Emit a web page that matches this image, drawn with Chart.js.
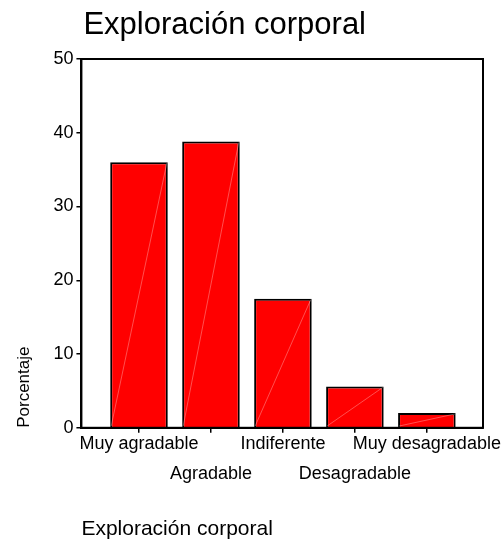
<!DOCTYPE html>
<html>
<head>
<meta charset="utf-8">
<script src="https://cdn.jsdelivr.net/npm/chart.js@4.4.1/dist/chart.umd.min.js"></script>
<style>
  html, body { margin: 0; padding: 0; background: #fff; }
  #wrap { width: 502px; height: 542px; }
</style>
</head>
<body>
<div id="wrap"><canvas id="chart"></canvas></div>
<script>
'use strict';

// ── Data ────────────────────────────────────────────────────────────────
const TITLE      = 'Exploración corporal';
const CATEGORIES = ['Muy agradable', 'Agradable', 'Indiferente', 'Desagradable', 'Muy desagradable'];
const PERCENTS   = [36.0, 38.8, 17.5, 5.6, 2.0];
const Y_TICKS    = [0, 10, 20, 30, 40, 50];
const Y_LABEL    = 'Porcentaje';

const FONT = "Arial, 'Liberation Sans', sans-serif";

// title drawn at the left edge of the plot box
const titlePlugin = {
  id: 'titleLeft',
  afterDraw(chart) {
    const { ctx, chartArea } = chart;
    ctx.save();
    ctx.font = `31px ${FONT}`;
    ctx.fillStyle = '#000';
    ctx.textBaseline = 'alphabetic';
    ctx.fillText(TITLE, chartArea.left + 2, 34);
    ctx.restore();
  },
};

// closed frame round the plot + faint diagonal in each bar
const framePlugin = {
  id: 'frame',
  afterDatasetsDraw(chart) {
    const { ctx, chartArea } = chart;
    ctx.save();
    ctx.strokeStyle = 'rgba(255, 220, 220, 0.45)';
    ctx.lineWidth = 0.8;
    chart.getDatasetMeta(0).data.forEach(bar => {
      const half = bar.width / 2;
      ctx.beginPath();
      ctx.moveTo(bar.x - half + 1, bar.base - 1);
      ctx.lineTo(bar.x + half - 1, bar.y + 1);
      ctx.stroke();
    });
    ctx.strokeStyle = '#000';
    ctx.lineWidth = 2;
    ctx.strokeRect(chartArea.left, chartArea.top, chartArea.right - chartArea.left, chartArea.bottom - chartArea.top);
    ctx.restore();
  },
};

new Chart(document.getElementById('chart').getContext('2d'), {
  type: 'bar',
  data: {
    datasets: [{
      data: PERCENTS.map((v, i) => ({ x: i, y: v })),
      backgroundColor: '#ff0000',
      borderColor: '#000',
      borderWidth: 2,
      categoryPercentage: 1,
      barPercentage: 0.8,
    }],
  },
  options: {
    responsive: true,
    maintainAspectRatio: false,
    animation: false,
    layout: { padding: { top: 59, left: 4, right: 19, bottom: 0 } },
    plugins: {
      legend: { display: false },
      tooltip: { enabled: false },
    },
    scales: {
      x: {
        type: 'linear',
        min: -0.8,
        max: 4.78,
        offset: false,
        afterBuildTicks: (scale) => { scale.ticks = CATEGORIES.map((_, i) => ({ value: i })); },
        grid: { display: true, drawOnChartArea: false, offset: false, tickLength: 5, color: '#000', lineWidth: 1.5 },
        border: { color: '#000', width: 2 },
        ticks: {
          autoSkip: false,
          maxRotation: 0,
          minRotation: 0,
          padding: -4,
          color: '#000',
          font: { family: FONT, size: 18, lineHeight: 1.667 },
          callback: (v) => (v % 2 === 0 ? CATEGORIES[v] : ['', CATEGORIES[v]]),
        },
        title: {
          display: true,
          text: TITLE,
          align: 'start',
          color: '#000',
          font: { family: FONT, size: 21 },
          padding: { top: 32, bottom: 0 },
        },
      },
      y: {
        min: 0,
        max: 50,
        afterBuildTicks: (scale) => { scale.ticks = Y_TICKS.map(v => ({ value: v })); },
        grid: { display: true, drawOnChartArea: false, tickLength: 5, color: '#000', lineWidth: 1.5 },
        border: { color: '#000', width: 2 },
        ticks: { color: '#000', padding: 3, font: { family: FONT, size: 18 } },
        title: {
          display: true,
          text: Y_LABEL,
          align: 'start',
          color: '#000',
          font: { family: FONT, size: 17 },
          padding: { top: 10, bottom: 16 },
        },
      },
    },
  },
  plugins: [titlePlugin, framePlugin],
});
</script>
</body>
</html>
